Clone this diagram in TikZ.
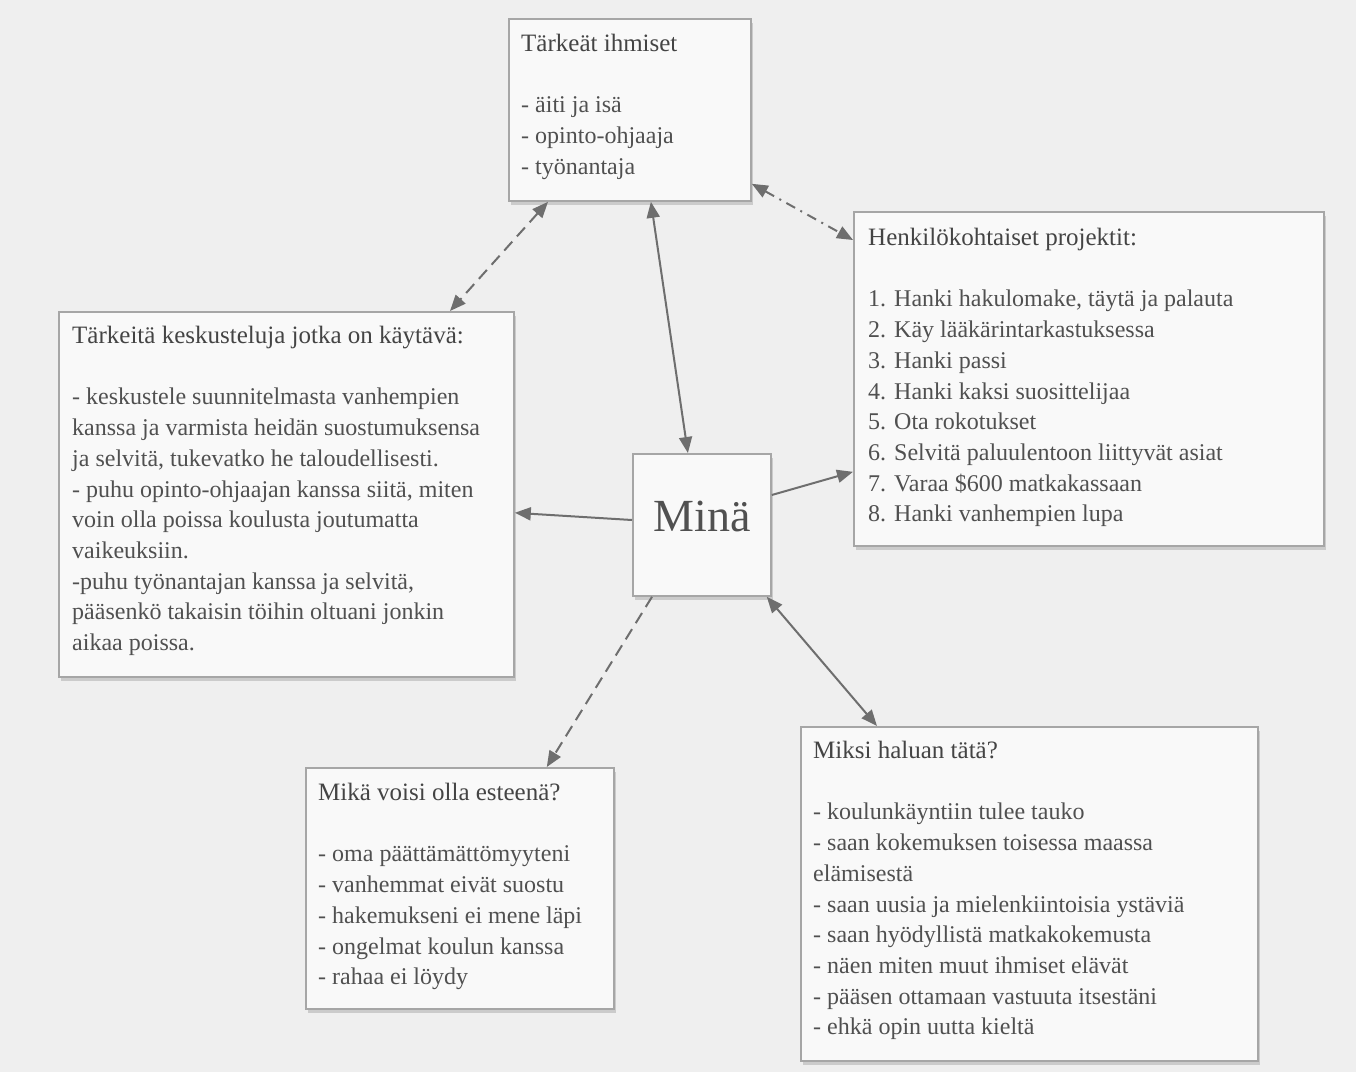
\documentclass[tikz,border=0pt]{standalone}
\usepackage{fontspec}
\setmainfont{Liberation Serif}
\usetikzlibrary{arrows.meta,shadows,calc}
\definecolor{bgc}{HTML}{EFEFEF}
\definecolor{boxfill}{HTML}{F9F9F9}
\definecolor{boxc}{HTML}{A6A6A6}
\definecolor{txtc}{HTML}{505050}
\definecolor{titc}{HTML}{444444}
\definecolor{arrc}{HTML}{6E6E6E}
\newcommand{\boxtitle}[1]{{\fontsize{25}{30.7}\selectfont\color{titc}#1}}
\begin{document}
\begin{tikzpicture}[x=1pt,y=-1pt,
  box/.style={draw=boxc, line width=1.8pt, fill=boxfill, anchor=north west, inner sep=0pt,
    drop shadow={shadow xshift=2pt, shadow yshift=-4pt, opacity=0.22, fill=black!70}},
  txt/.style={anchor=north west, inner sep=0pt, text=txtc, align=left,
    font=\fontsize{24}{30.7}\selectfont},
  conn/.style={draw=arrc, line width=2pt},
  both/.style={conn, {Triangle[length=16pt,width=13pt]}-{Triangle[length=16pt,width=13pt]}},
  one/.style={conn, -{Triangle[length=16pt,width=13pt]}},
  dashlong/.style={dash pattern=on 12pt off 7pt},
  dashdotted/.style={dash pattern=on 10pt off 6pt on 2pt off 6pt}
]
\useasboundingbox (0,0) rectangle (1356,1072);
\fill[bgc] (0,0) rectangle (1356,1072);

% boxes
\node[box, minimum width=242pt, minimum height=182pt] (b1) at (508,18) {};
\node[box, minimum width=470pt, minimum height=334pt] (b2) at (853,211) {};
\node[box, minimum width=455pt, minimum height=365pt] (b3) at (58,311) {};
\node[box, minimum width=138pt, minimum height=142pt] (b4) at (632,453) {};
\node[box, minimum width=308pt, minimum height=241pt] (b5) at (305,767) {};
\node[box, minimum width=457pt, minimum height=334pt] (b6) at (800,726) {};

% texts
\node[txt] (t1) at ($(b1.north west)+(13,16)$) {\boxtitle{Tärkeät ihmiset}\\[30.7pt]
- äiti ja isä\\
- opinto-ohjaaja\\
- työnantaja};

\node[txt] (t2) at ($(b2.north west)+(15,17)$) {\boxtitle{Henkilökohtaiset projektit:}\\[30.7pt]
1. Hanki hakulomake, täytä ja palauta\\
2. Käy lääkärintarkastuksessa\\
3. Hanki passi\\
4. Hanki kaksi suosittelijaa\\
5. Ota rokotukset\\
6. Selvitä paluulentoon liittyvät asiat\\
7. Varaa \$600 matkakassaan\\
8. Hanki vanhempien lupa};

\node[txt] (t3) at ($(b3.north west)+(14,15)$) {\boxtitle{Tärkeitä keskusteluja jotka on käytävä:}\\[30.7pt]
- keskustele suunnitelmasta vanhempien\\
kanssa ja varmista heidän suostumuksensa\\
ja selvitä, tukevatko he taloudellisesti.\\
- puhu opinto-ohjaajan kanssa siitä, miten\\
voin olla poissa koulusta joutumatta\\
vaikeuksiin.\\
-puhu työnantajan kanssa ja selvitä,\\
pääsenkö takaisin töihin oltuani jonkin\\
aikaa poissa.};

\node[txt] (t5) at ($(b5.north west)+(13,16)$) {\boxtitle{Mikä voisi olla esteenä?}\\[30.7pt]
- oma päättämättömyyteni\\
- vanhemmat eivät suostu\\
- hakemukseni ei mene läpi\\
- ongelmat koulun kanssa\\
- rahaa ei löydy};

\node[txt] (t6) at ($(b6.north west)+(13,15)$) {\boxtitle{Miksi haluan tätä?}\\[30.7pt]
- koulunkäyntiin tulee tauko\\
- saan kokemuksen toisessa maassa\\
elämisestä\\
- saan uusia ja mielenkiintoisia ystäviä\\
- saan hyödyllistä matkakokemusta\\
- näen miten muut ihmiset elävät\\
- pääsen ottamaan vastuuta itsestäni\\
- ehkä opin uutta kieltä};

\node[inner sep=0pt, text=txtc, font=\fontsize{46}{52}\selectfont] (t4) at ($(b4.center)+(0,-8)$) {Minä};

% connectors
\draw[both, dashlong] ($(b1.south west)+(40,0)$) -- ($(b3.north west)+(392,0)$);
\draw[both, dashdotted] ($(b1.south east)+(0,-18)$) -- ($(b2.north west)+(0,29)$);
\draw[both] ($(b4.north)+(-14,0)$) -- ($(b1.south)+(21,0)$);
\draw[one] ($(b4.north east)+(0,42)$) -- ($(b2.south west)+(0,-75)$);
\draw[one] ($(b4.north west)+(0,67)$) -- ($(b3.south east)+(0,-165)$);
\draw[one, dashlong] ($(b4.south west)+(20,0)$) -- ($(b5.north east)+(-68,0)$);
\draw[both] ($(b4.south east)+(-5,0)$) -- ($(b6.north west)+(77,0)$);
\end{tikzpicture}
\end{document}
